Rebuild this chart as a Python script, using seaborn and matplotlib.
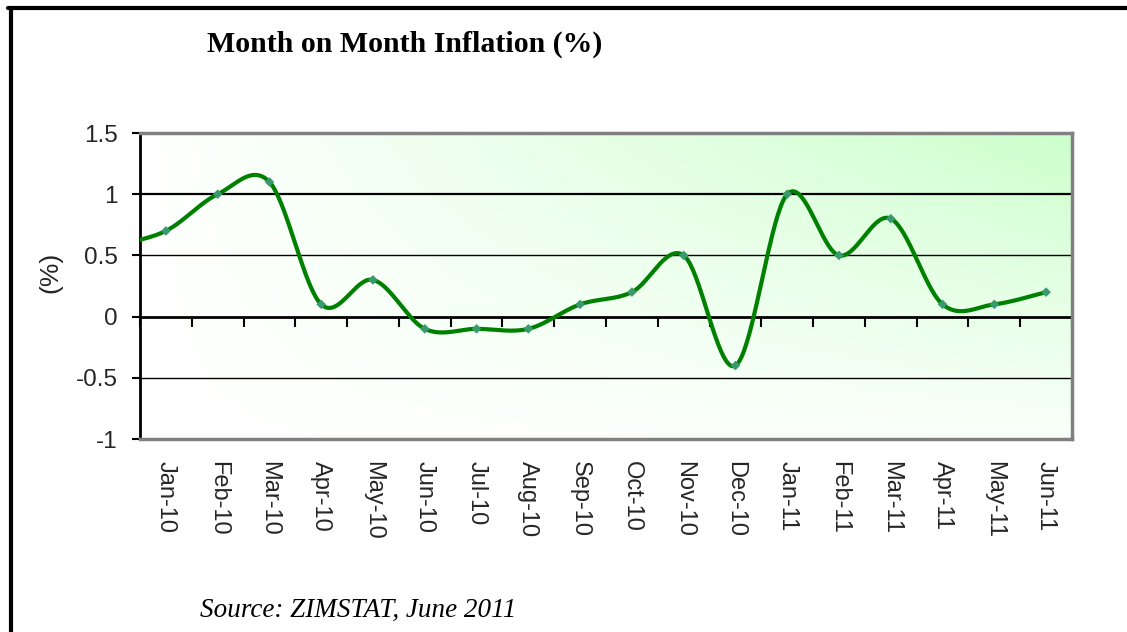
import numpy as np
import pandas as pd
import matplotlib
matplotlib.use('Agg')
import matplotlib.pyplot as plt
from matplotlib.lines import Line2D
import seaborn as sns

# Month on month inflation, Zimbabwe (ZIMSTAT, June 2011)
months = ['Jan-10', 'Feb-10', 'Mar-10', 'Apr-10', 'May-10', 'Jun-10',
          'Jul-10', 'Aug-10', 'Sep-10', 'Oct-10', 'Nov-10', 'Dec-10',
          'Jan-11', 'Feb-11', 'Mar-11', 'Apr-11', 'May-11', 'Jun-11']
mom_inflation = [0.7, 1.0, 1.1, 0.1, 0.3, -0.1, -0.1, -0.1, 0.1, 0.2,
                 0.5, -0.4, 1.0, 0.5, 0.8, 0.1, 0.1, 0.2]
# the curve comes in from the month before the chart (Dec-09), off to the left
prev_month_value = 0.58

y_ticks = [-1, -0.5, 0, 0.5, 1, 1.5]
y_tick_labels = ['-1', '-0.5', '0', '0.5', '1', '1.5']

W, H = 1127, 632
LINE_GREEN = '#008000'
MARKER_GREEN = '#3a9a6e'


def smooth_curve(xs, ys, yscale, n=40):
    # Excel style smoothing: bezier segments with catmull-rom control points,
    # worked out in screen-like space so the overshoots look right
    pts = np.column_stack([xs, np.asarray(ys) * yscale])
    out = []
    for i in range(len(pts) - 1):
        p0 = pts[max(i - 1, 0)]
        p1 = pts[i]
        p2 = pts[i + 1]
        p3 = pts[min(i + 2, len(pts) - 1)]
        c1 = p1 + (p2 - p0) / 6
        c2 = p2 - (p3 - p1) / 6
        t = np.linspace(0, 1, n)[:, None]
        seg = ((1 - t) ** 3) * p1 + 3 * ((1 - t) ** 2) * t * c1 + 3 * (1 - t) * t ** 2 * c2 + t ** 3 * p2
        out.append(seg if i == 0 else seg[1:])
    out = np.vstack(out)
    return out[:, 0], out[:, 1] / yscale


sns.set_style('white')
plt.rcParams['font.family'] = ['Liberation Sans', 'DejaVu Sans']

fig = plt.figure(figsize=(W / 100, H / 100), dpi=100)
ax = fig.add_axes([140 / W, 1 - 439 / H, 932 / W, 306 / H])

n = len(months)
xlim = (-0.5, n - 0.5)
ylim = (y_ticks[0], y_ticks[-1])
ax.set_xlim(*xlim)
ax.set_ylim(*ylim)

# gradient fill, white at left going to pale green at top right
gx, gy = np.meshgrid(np.linspace(0, 1, 300), np.linspace(0, 1, 150))
t = gx * (0.1 + 0.9 * gy)
white = np.array([1.0, 1.0, 1.0])
green = np.array([0.80, 1.0, 0.80])
bg = white[None, None, :] * (1 - t[..., None]) + green[None, None, :] * t[..., None]
ax.imshow(bg, extent=[xlim[0], xlim[1], ylim[0], ylim[1]], origin='lower',
          aspect='auto', zorder=0, interpolation='bilinear')

# horizontal grid lines
for v in y_ticks[1:-1]:
    if v == 0:
        continue
    ax.axhline(v, color='black', lw=1.6 if v == 1 else 1.0, zorder=1)

# smoothed line + markers
xs = np.arange(-1, n)
ys = [prev_month_value] + mom_inflation
px_per_cat = 932 / n
px_per_unit = 306 / (ylim[1] - ylim[0])
cx, cy = smooth_curve(xs, ys, px_per_unit / px_per_cat)
curve = pd.DataFrame({'x': cx, 'y': cy})
sns.lineplot(data=curve, x='x', y='y', ax=ax, color=LINE_GREEN, lw=3.0,
             sort=False, estimator=None, zorder=3)
pts = pd.DataFrame({'x': np.arange(n), 'y': mom_inflation})
sns.scatterplot(data=pts, x='x', y='y', ax=ax, color=MARKER_GREEN, marker='D',
                s=24, edgecolor='none', zorder=4)

# axes styling
ax.set_xticks(np.arange(n))
ax.set_xticklabels(months, rotation=-90, fontsize=17)
ax.tick_params(axis='x', length=0, pad=16)
ax.set_yticks(y_ticks)
ax.set_yticklabels(y_tick_labels, fontsize=17.5)
ax.tick_params(axis='y', left=True, length=6, width=1.5, color='black', pad=10)
ax.set_xlabel('')
ax.set_ylabel('(%)', fontsize=19)
ax.yaxis.set_label_coords(-0.083, 0.545)

ax.spines['left'].set_color('black')
ax.spines['left'].set_linewidth(2)
for s in ['top', 'right', 'bottom']:
    ax.spines[s].set_color('#808080')
    ax.spines[s].set_linewidth(2.5)
    ax.spines[s].set_visible(True)

# category axis sits on the zero line, ticks between months
zero_pos = (0 - ylim[0]) / (ylim[1] - ylim[0])
sec = ax.secondary_xaxis(zero_pos)
sec.set_xticks(np.arange(-0.5, n, 1))
sec.tick_params(axis='x', length=7, width=1.5, color='black', labelbottom=False, labeltop=False)
sec.spines['bottom'].set_linewidth(2)
sec.spines['bottom'].set_color('black')

# titles
fig.text(405 / W, 1 - 52 / H, 'Month on Month Inflation (%)', ha='center', va='baseline',
         family='Liberation Serif', weight='bold', fontsize=21.5, color='black')
fig.text(200 / W, 1 - 617 / H, 'Source: ZIMSTAT, June 2011', ha='left', va='baseline',
         family='Liberation Serif', style='italic', fontsize=19.5, color='black')

# outer frame (top and left edges)
fig.add_artist(Line2D([8 / W, 1], [1 - 8 / H, 1 - 8 / H], color='black', lw=3,
                      transform=fig.transFigure))
fig.add_artist(Line2D([10.5 / W, 10.5 / W], [0, 1 - 8 / H], color='black', lw=3,
                      transform=fig.transFigure))

fig.savefig('out.png', dpi=100)
